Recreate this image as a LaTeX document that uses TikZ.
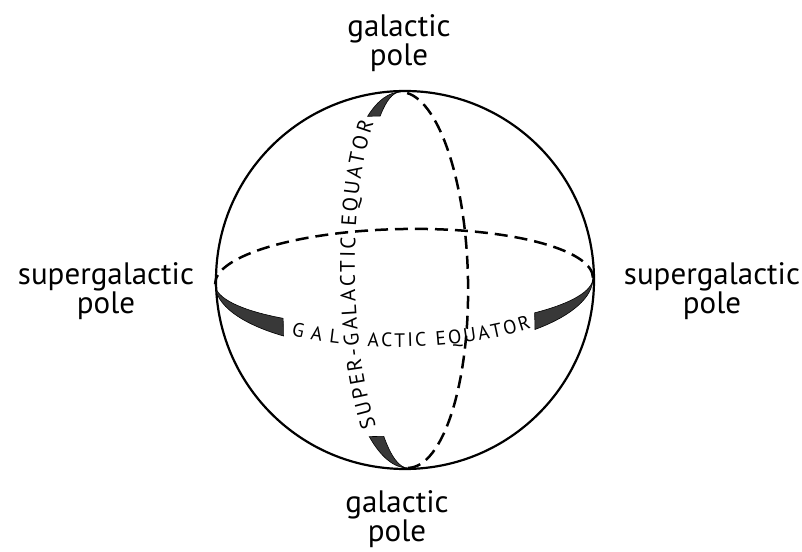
\documentclass[tikz,border=0pt]{standalone}
\usepackage{fontspec}
\newfontfamily\handfont{PT Sans}
\newcommand\eqfont{\handfont\fontsize{21}{21}\selectfont}
\newcommand\geqfont{\handfont\fontsize{19.5}{20}\selectfont}
\usetikzlibrary{decorations.text}

\tikzset{
  pole label/.style={font=\handfont\fontsize{31}{27}\selectfont, align=center, inner sep=0pt},
  back line/.style={line width=2.5pt, dash pattern=on 13pt off 7pt},
  band/.style={fill=black!78, draw=black, line width=0.6pt},
  eq text/.style={decorate, decoration={text along path, text align={fit to path}, text={#1}}}
}

\begin{document}
\begin{tikzpicture}[x=1pt, y=1pt]
  \useasboundingbox (0,0) rectangle (802,551);
  % sphere
  \node[circle, draw, line width=2.2pt, minimum size=378pt, inner sep=0pt] (sphere) at (405,271) {};

  % galactic equator
  \begin{scope}[shift={(404,270)}, rotate=1]
    \draw[back line] (0:189 and 52) arc[start angle=0, end angle=180, x radius=189, y radius=52];
    \fill[band] (180:189 and 69) arc[start angle=180, end angle=230, x radius=189, y radius=69]
      -- (230:189 and 46) arc[start angle=230, end angle=180, x radius=189, y radius=46] -- cycle;
    \fill[band] (313.5:189 and 70) arc[start angle=313.5, end angle=360, x radius=189, y radius=70]
      -- (360:189 and 47) arc[start angle=360, end angle=313.5, x radius=189, y radius=47] -- cycle;
    \path[eq text={|\geqfont|GAL}] (233:189 and 66) arc[start angle=233, end angle=249.5, x radius=189, y radius=66];
    \path[eq text={|\geqfont|ACTIC EQUATOR}] (258.5:189 and 66) arc[start angle=258.5, end angle=312, x radius=189, y radius=66];
  \end{scope}

  % supergalactic equator
  \begin{scope}[shift={(404,271)}, rotate=1.2]
    \draw[back line] (-90:64 and 188) arc[start angle=-90, end angle=90, x radius=64, y radius=188];
    \fill[band] (90:68 and 188) arc[start angle=90, end angle=119, x radius=68, y radius=188]
      -- (119:42 and 188) arc[start angle=119, end angle=90, x radius=42, y radius=188] -- cycle;
    \fill[band] (236:68 and 188) arc[start angle=236, end angle=270, x radius=68, y radius=188]
      -- (270:42 and 188) arc[start angle=270, end angle=236, x radius=42, y radius=188] -- cycle;
    \path[eq text={|\eqfont|SUPER-GALACTIC EQUATOR}] (231:49 and 188) arc[start angle=231, end angle=123, x radius=49, y radius=188];
  \end{scope}

  % poles
  \node[pole label] (gpTop) at (399,508) {galactic\\pole};
  \node[pole label] (gpBot) at (397,32) {galactic\\pole};
  \node[pole label] (sgpLeft) at (106,260) {supergalactic\\pole};
  \node[pole label] (sgpRight) at (712,260) {supergalactic\\pole};
\end{tikzpicture}
\end{document}
